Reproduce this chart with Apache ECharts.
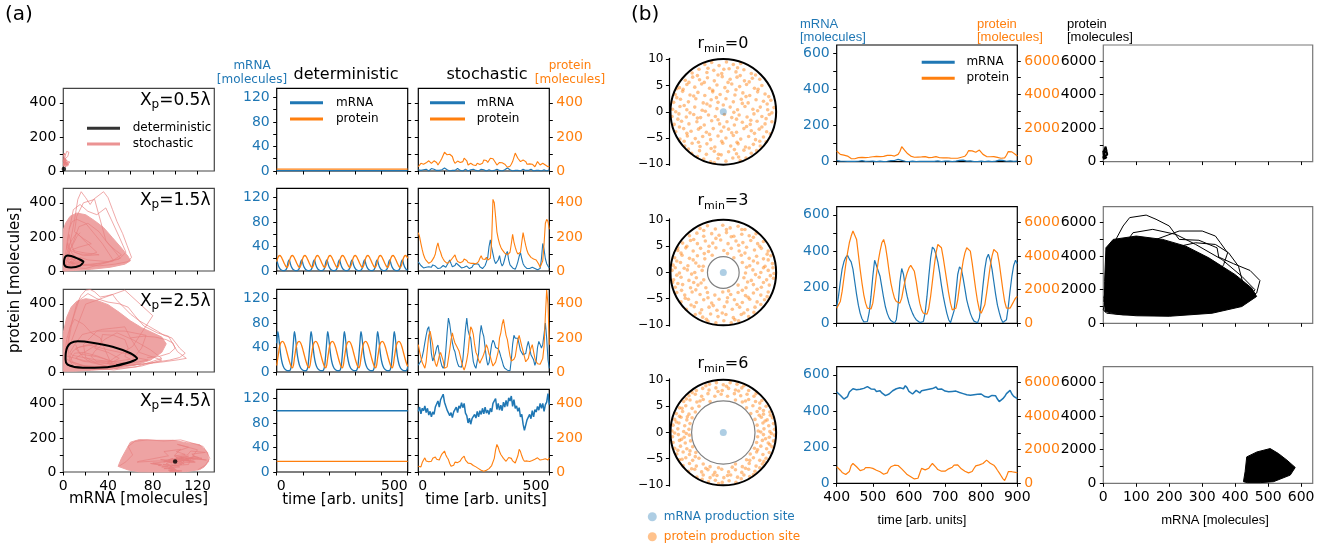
<!DOCTYPE html>
<html><head><meta charset="utf-8">
<script src="https://cdn.jsdelivr.net/npm/echarts@6.0.0/dist/echarts.min.js"></script>
<style>html,body{margin:0;padding:0;background:#fff}#c{width:1332px;height:543px}</style>
</head><body><div id="c"></div>
<script>
// ======================= DATA =======================
// ---- panel (a): tick values / labels
const A_MRNA_MAX = 135, A_PROT_MAX = 485;
const A_MRNA_TICKS = [0,20,40,60,80,100,120];
const A_MRNA_LABELS = [0,40,80,120];
const A_PROT_TICKS = [0,100,200,300,400];
const A_PROT_LABELS = [0,200,400];
const A_TIME_TICKS = [0,100,200,300,400,500];
const A_TIME_LABELS = [0,500];
const A_XP = ['0.5','1.5','2.5','4.5'];
// ---- panel (a): deterministic time series (mRNA on mRNA axis, protein on protein axis)
const DET1_T = [0,500], DET1_M = [0.5,0.5], DET1_P = [11,11];
const DET2_DT = 4;
const DET2_M = [18,12,7,4,2.2,1.2,0.7,0.6,1,2.5,7,15, 18,12,7,4,2.2,1.2,0.7,0.6,1,2.5,7,15, 18,12,7,4,2.2,1.2,0.7,0.6,1,2.5,7,15, 18,12,7,4,2.2,1.2,0.7,0.6,1,2.5,7,15, 18,12,7,4,2.2,1.2,0.7,0.6,1,2.5,7,15, 18,12,7,4,2.2,1.2,0.7,0.6,1,2.5,7,15, 18,12,7,4,2.2,1.2,0.7,0.6,1,2.5,7,15, 18,12,7,4,2.2,1.2,0.7,0.6,1,2.5,7,15, 18,12,7,4,2.2,1.2,0.7,0.6,1,2.5,7,15, 18,12,7,4,2.2,1.2,0.7,0.6,1,2.5,7,15, 18,12,7,4,2.2,1.2];
const DET2_P = [55,76,88,91,86,75,61,47,35,25,21,32, 55,76,88,91,86,75,61,47,35,25,21,32, 55,76,88,91,86,75,61,47,35,25,21,32, 55,76,88,91,86,75,61,47,35,25,21,32, 55,76,88,91,86,75,61,47,35,25,21,32, 55,76,88,91,86,75,61,47,35,25,21,32, 55,76,88,91,86,75,61,47,35,25,21,32, 55,76,88,91,86,75,61,47,35,25,21,32, 55,76,88,91,86,75,61,47,35,25,21,32, 55,76,88,91,86,75,61,47,35,25,21,32, 55,76,88,91,86,75];
const DET3_T = [0, 4,7,11,16,22,28,34,40,46,52,56,60,64, 67.5,70.5,74.5,79.5,85.5,91.5,97.5,103.5,109.5,115.5,119.5,123.5,127.5, 131,134,138,143,149,155,161,167,173,179,183,187,191, 194.5,197.5,201.5,206.5,212.5,218.5,224.5,230.5,236.5,242.5,246.5,250.5,254.5, 258,261,265,270,276,282,288,294,300,306,310,314,318, 321.5,324.5,328.5,333.5,339.5,345.5,351.5,357.5,363.5,369.5,373.5,377.5,381.5, 385,388,392,397,403,409,415,421,427,433,437,441,445, 448.5,451.5,455.5,460.5,466.5,472.5,478.5,484.5,490.5,496.5,500];
const DET3_M = [47, 66,60,44,26,13,6.5,3.5,2.2,2.0,3.5,10,28,50, 66,60,44,26,13,6.5,3.5,2.2,2.0,3.5,10,28,50, 66,60,44,26,13,6.5,3.5,2.2,2.0,3.5,10,28,50, 66,60,44,26,13,6.5,3.5,2.2,2.0,3.5,10,28,50, 66,60,44,26,13,6.5,3.5,2.2,2.0,3.5,10,28,50, 66,60,44,26,13,6.5,3.5,2.2,2.0,3.5,10,28,50, 66,60,44,26,13,6.5,3.5,2.2,2.0,3.5,10,28,50, 66,60,44,26,13,6.5,3.5,2.2,2.0,3.5, 9];
const DET3_P = [38, 80,110,148,172,180,170,145,110,75,45,30,25,40, 80,110,148,172,180,170,145,110,75,45,30,25,40, 80,110,148,172,180,170,145,110,75,45,30,25,40, 80,110,148,172,180,170,145,110,75,45,30,25,40, 80,110,148,172,180,170,145,110,75,45,30,25,40, 80,110,148,172,180,170,145,110,75,45,30,25,40, 80,110,148,172,180,170,145,110,75,45,30,25,40, 80,110,148,172,180,170,145,110,75,45, 32];
const DET4_T = [0,500], DET4_M = [100,100], DET4_P = [62,62];
// ---- panel (a): stochastic time series, t = 0..500 every 5
const A_ST_T0 = 0, A_ST_DT = 5;
const S1_M = [2,3,1,4,2,5,3,1,0,2, 4,6,3,2,1,0,1,3,2,4, 5,3,2,1,0,0,1,2,1,3, 4,2,1,0,0,2,3,1,0,1, 2,4,3,2,1,0,0,1,3,5, 2,1,0,1,2,1,0,0,1,2, 3,2,1,0,0,1,2,4,5,3, 2,1,0,0,1,2,1,0,0,2, 3,2,1,0,1,2,3,1,0,0, 1,2,1,0,0,1,2,1,0,1, 2];
const S1_P = [25,32,45,50,40,35,48,55,60,50, 45,52,60,65,50,35,45,60,75,85, 110,115,95,90,98,105,85,60,45,50, 58,60,50,40,55,75,85,60,35,40, 45,42,35,25,32,45,42,38,35,45, 65,75,62,50,60,75,85,72,60,48, 35,38,50,55,48,42,40,30,22,20, 28,40,55,80,105,90,75,65,55,58, 65,70,55,40,35,42,50,40,30,25, 40,55,48,35,38,45,42,35,30,25, 28];
const S2_M = [15,12,9,6,5,4,6,5,7,9, 6,10,12,8,5,4,3,5,7,9, 10,6,8,14,18,12,7,5,9,13, 15,9,6,5,4,6,7,8,6,4, 3,6,10,8,12,15,11,7,5,4, 5,9,15,22,40,51,38,28,18,12, 10,18,25,14,8,12,20,28,32,18, 10,7,5,4,3,8,15,24,30,20, 12,8,5,4,3,4,5,6,5,4, 3,2,2,4,20,45,35,20,12,8, 5];
const S2_P = [225,200,160,125,95,75,62,52,45,48, 55,60,80,100,140,165,130,110,85,70, 58,50,45,48,55,60,75,85,95,70, 55,50,48,45,55,70,80,62,50,48, 45,42,45,40,42,48,55,75,90,70, 60,68,80,65,55,75,180,420,400,320, 230,190,160,140,125,115,105,100,95,90, 110,160,215,170,140,115,100,95,110,170, 225,185,150,120,100,90,80,75,70,68, 65,55,40,22,15,60,160,280,303,290, 245];
const S3_M = [11,14,18,25,35,48,60,70,74,55, 30,18,20,30,40,44,30,18,10,6, 10,35,65,88,78,62,48,38,33,22, 14,9,6,8,20,45,70,88,68,60, 55,35,17,10,6,8,30,60,76,65, 58,40,22,11,15,30,45,52,48,40, 42,38,33,25,18,10,6,4,3,2, 2,20,45,60,55,58,55,45,35,33, 28,25,30,42,50,40,28,30,20,11, 18,40,50,45,39,45,62,80,55,20, 6];
const S3_P = [160,120,85,55,40,22,60,140,215,240, 240,160,85,50,32,60,95,115,110,65, 22,14,30,80,130,190,230,195,170,155, 145,125,95,61,30,12,35,70,115,200, 265,250,220,160,115,98,70,51,70,85, 105,130,160,140,105,90,60,35,45,58, 61,120,200,230,280,309,260,215,190,140, 95,65,61,75,91,140,190,215,220,150, 121,90,60,51,80,115,140,160,120,81, 62,48,42,45,51,80,150,330,480,398, 160];
const S4_M = [99,106,95,104,100,108,97,104,93,99, 90,98,94,106,104,116,106,118,115,127, 114,111,101,104,92,97,89,98,95,106, 97,108,104,113,105,112,96,92,80,88, 78,87,85,94,88,99,90,100,94,104, 95,106,96,101,94,104,98,112,114,120, 102,112,101,109,100,114,106,117,107,121, 116,124,107,118,104,108,99,105,90,94, 78,68,66,85,84,94,87,100,90,102, 98,107,101,112,104,112,99,110,114,128, 110];
const S4_P = [34,45,30,55,70,83,65,75,60,55, 63,80,70,88,75,83,70,90,105,115, 123,100,85,73,50,34,45,40,58,63, 55,48,65,78,85,93,70,60,52,44, 50,40,38,34,30,25,20,18,10,5, 4,6,10,14,20,30,38,44,80,130, 162,145,120,103,95,80,70,63,72,85, 93,80,65,58,53,60,95,133,120,95, 75,63,58,65,70,62,73,68,60,75, 68,83,78,70,76,73,64,78,85,70, 83];
// ---- panel (a): dense parts of the stochastic phase clouds and extra excursions [mRNA, protein]
const CLOUD2 = [[0,0],[0,240],[2,280],[6,320],[12,340],[20,330],[28,295],[36,255],[44,195],[52,135],[58,85],[60,60],[55,40],[42,22],[25,10],[10,3]];
const LOOP2A = [[3,60],[6,160],[10,300],[13,420],[16,465],[20,430],[24,390],[27,420],[31,440],[36,465],[40,430],[44,360],[48,290],[53,220],[57,150],[61,80],[58,55],[46,40],[32,30],[18,35],[8,45],[3,60]];
const LOOP2B = [[1,40],[4,200],[9,360],[15,390],[22,350],[30,330],[38,370],[43,300],[50,200],[56,110],[50,70],[38,50],[24,40],[10,35],[1,40]];
const LOOP2C = [[2,30],[6,120],[14,260],[22,280],[32,230],[40,160],[47,120],[52,95],[44,60],[30,40],[14,30],[2,30]];
const CLOUD3 = [[0,5],[0,230],[3,320],[7,380],[12,415],[20,430],[30,420],[40,395],[50,350],[60,300],[70,260],[80,230],[88,205],[92,165],[88,115],[78,70],[64,40],[45,20],[25,10],[10,5]];
const LOOP3A = [[4,150],[8,300],[12,400],[16,450],[20,480],[24,484],[28,470],[33,440],[38,445],[44,455],[48,420],[54,380],[60,340],[68,300],[76,270],[84,240],[90,215],[97,200],[100,175],[104,140],[109,110],[104,85],[95,70],[80,55],[60,40],[40,30],[20,35],[6,60],[4,150]];
const LOOP3B = [[2,80],[6,260],[14,420],[22,460],[30,430],[40,410],[50,400],[58,380],[64,330],[72,270],[84,230],[94,210],[102,120],[110,80],[103,72],[90,60],[70,45],[50,35],[30,30],[12,40],[2,80]];
const LOOP3C = [[60,200],[72,210],[82,205],[92,190],[98,170],[100,140],[95,110],[85,90],[75,85]];
const CLOUD4 = [[49,33],[52,80],[57,140],[60,175],[68,190],[83,186],[98,186],[110,172],[122,160],[129,115],[130,63],[126,30],[122,14],[110,2],[90,0],[68,1],[58,12]];
const LOOP4A = [[50,35],[56,60],[62,100],[58,150],[64,180],[75,188],[90,182],[105,188],[115,170],[125,150],[128,120],[131,80],[127,40],[120,12]];
// ---- panel (b): tick values / labels
const B_MRNA_MAX_TS = 645, B_MRNA_MAX_PH = 635, B_PROT_MAX = 6950;
const B_MRNA_TS_TICKS = [0,100,200,300,400,500,600];
const B_MRNA_TS_LABELS = [0,200,400,600];
const B_PROT_TICKS = [0,1000,2000,3000,4000,5000,6000];
const B_PROT_LABELS = [0,2000,4000,6000];
const B_TIME_TICKS = [400,500,600,700,800,900];
const B_MRNA_PH_TICKS = [0,100,200,300,400,500,600];
const CIRC_TICKS = [-10,-5,0,5,10];
const R_MAX = 10;
const R_MIN = [0,3,6];
// ---- panel (b): time series, t = 400..900 every 5
const B_T0 = 400, B_DT = 5;
const B1_M = [6,4,3,5,2,3,1,0,2,3, 1,0,2,4,5,3,1,0,2,1, 3,2,0,1,3,2,0,1,2,4, 5,3,6,9,12,10,7,4,2,1, 0,2,3,1,0,2,1,3,2,0, 1,3,2,0,1,2,4,2,0,1, 3,5,3,1,0,2,3,5,7,9, 8,6,3,2,4,2,0,1,0,2, 3,1,0,2,3,1,0,1,3,5, 8,10,7,4,2,3,4,2,1,2, 3];
const B1_P = [630,520,430,400,390,370,330,260,180,140, 170,220,240,210,250,270,240,280,260,300, 290,260,310,330,300,340,310,360,370,340, 380,370,330,360,430,600,890,780,630,500, 400,330,300,260,240,270,300,280,330,300, 260,240,270,250,280,300,260,230,200,220, 190,230,240,210,230,200,180,200,230,260, 280,320,450,650,730,640,530,560,650,690, 600,430,360,300,280,290,270,300,280,250, 230,200,180,220,380,600,630,580,560,420, 330];
const B2_M = [90,150,230,300,340,365,377,355,340,300, 230,160,100,55,25,8,3,10,60,150, 260,349,320,290,260,200,140,90,55,30, 15,6,2,20,100,230,303,270,200,150, 110,80,55,35,20,10,4,0,10,60, 150,260,360,422,410,380,340,280,210,150, 100,55,20,3,10,70,170,270,312,300, 250,190,130,90,55,30,12,4,3,30, 110,210,300,360,382,350,300,230,160,100, 60,25,5,2,20,90,180,260,320,349, 330];
const B2_P = [900,1000,1300,1900,2700,3500,4200,4800,5200,5500, 5500,5000,4100,3200,2400,1700,1200,900,800,850, 1200,2000,2900,3700,4300,4800,5000,4600,3900,3100, 2400,1900,1500,1300,1200,1200,1500,2100,2600,3000, 3300,3450,3400,3100,2500,1800,1200,800,600,500, 550,900,1600,2500,3400,4200,4700,4800,4500,3900, 3200,2500,1800,1200,800,700,900,1400,2200,3000, 3700,4200,4500,4600,4300,3600,2800,2000,1300,800, 600,700,1100,1800,2600,3400,4000,4400,4500,4200, 3600,2800,2000,1300,900,800,900,1100,1300,1500, 1600];
const B3_M = [505,498,487,476,466,474,480,505,516,523, 512,518,508,520,512,525,518,535,542,522, 514,520,508,517,512,500,492,485,481,494, 500,512,506,523,515,528,518,523,540,528, 508,500,494,505,514,506,500,512,505,516, 509,520,512,524,518,533,520,514,522,516, 510,518,506,514,508,518,510,514,502,508, 496,502,490,495,487,494,490,498,492,486, 494,487,480,488,476,481,486,478,484,466, 452,458,468,480,496,504,514,494,481,472, 468];
const B3_P = [986,900,780,650,590,520,490,700,1050,1180, 1080,986,880,760,690,820,940,986,940,900, 890,840,780,720,690,620,540,490,620,850, 986,1020,1080,1140,1060,960,860,790,640,520, 430,394,330,260,197,300,600,890,850,800, 790,900,1050,1180,1100,950,820,780,720,690, 720,800,860,890,960,1080,1180,1100,980,860, 790,720,660,620,590,700,880,1040,1080,1100, 1140,1180,1280,1380,1300,1200,1100,1080,950,780, 620,450,280,160,400,690,720,690,690,650, 630];
// ---- panel (b): dense parts of phase portraits and outer loops [mRNA, protein]
const PB2 = [[5,700],[4,2500],[8,4500],[30,5000],[100,5200],[180,5000],[250,4600],[320,3900],[400,2900],[450,2100],[465,1600],[420,1000],[330,600],[200,420],[100,450],[40,550]];
const LOOPB2A = [[5,1000],[15,3500],[30,4700],[60,5800],[80,6300],[130,6450],[160,6200],[200,5800],[230,5000],[290,4950],[345,4500],[350,3950],[395,3550],[445,3150],[475,2550],[465,1800],[435,1550],[380,1000],[300,600],[200,500],[100,550],[30,700],[5,1000]];
const LOOPB2B = [[10,900],[40,4000],[90,5400],[150,5600],[220,5300],[280,4700],[360,3800],[420,2800],[460,2000],[430,1200],[340,700],[220,550],[100,600],[10,900]];
const PB3 = [[425,95],[430,690],[435,1575],[466,1870],[506,2070],[531,1775],[557,1380],[582,945],[567,490],[516,95],[476,40],[437,40]];
// ---- panel (b): production sites [x, y]
const MRNA_SITE = [[0,0]];
const SITES_R0 = [[-3.5,9.0],[-2.2,9.4],[-0.8,8.8],[0.6,9.5],[1.9,9.0],[3.3,9.2],
[-5.9,7.4],[-4.6,8.1],[-3.1,7.5],[-1.8,7.9],[-0.3,7.3],[1.1,8.2],[2.4,7.6],[3.9,8.0],[5.3,7.3],
[-7.2,6.0],[-5.8,6.6],[-4.5,6.1],[-3.0,6.5],[-1.7,5.9],[-0.2,6.7],[1.3,6.2],[2.6,6.6],[4.0,5.9],[5.5,6.4],[6.9,6.2],
[-8.3,4.6],[-6.9,5.2],[-5.4,4.7],[-4.1,5.3],[-2.6,4.5],[-1.2,5.1],[0.3,4.6],[1.6,5.3],[3.1,4.8],[4.4,5.2],[5.9,4.5],[7.3,5.0],
[-9.1,3.3],[-7.7,3.9],[-6.3,3.2],[-4.8,3.7],[-3.5,3.1],[-2.0,3.8],[-0.6,3.3],[0.8,3.9],[2.2,3.2],[3.7,3.6],[5.0,3.1],[6.5,3.8],[7.9,3.4],
[-9.4,1.8],[-8.1,2.4],[-6.6,1.9],[-5.2,2.5],[-3.8,1.7],[-2.3,2.3],[-1.0,1.8],[0.5,2.5],[1.9,1.9],[3.4,2.4],[4.7,1.7],[6.2,2.3],[7.6,2.0],[9.0,2.2],
[-9.6,0.5],[-8.2,1.0],[-6.9,0.4],[-5.4,0.9],[-4.0,0.3],[-2.5,1.1],[-1.2,0.6],[1.3,0.9],[2.7,0.4],[4.1,1.0],[5.6,0.5],[7.0,0.9],[8.4,0.4],[9.6,0.8],
[-9.7,-0.9],[-8.4,-0.4],[-7.0,-1.0],[-5.6,-0.5],[-4.3,-1.1],[-2.8,-0.6],[-1.5,-0.9],[0.2,-0.5],[1.6,-1.1],[3.0,-0.6],[4.5,-1.0],[5.8,-0.4],[7.3,-0.9],[8.7,-0.5],
[-9.3,-2.4],[-7.9,-1.8],[-6.5,-2.3],[-5.0,-1.9],[-3.6,-2.5],[-2.2,-1.7],[-0.7,-2.3],[0.7,-1.9],[2.1,-2.5],[3.6,-2.0],[5.1,-2.4],[6.4,-1.8],[7.9,-2.3],[9.2,-1.9],
[-9.0,-3.8],[-7.5,-3.2],[-6.1,-3.7],[-4.7,-3.3],[-3.2,-3.9],[-1.9,-3.2],[-0.4,-3.7],[1.0,-3.3],[2.5,-3.9],[3.9,-3.2],[5.3,-3.6],[6.8,-3.3],[8.2,-3.8],
[-8.2,-5.2],[-6.8,-4.6],[-5.3,-5.1],[-3.9,-4.7],[-2.4,-5.3],[-1.0,-4.6],[0.5,-5.0],[1.9,-4.5],[3.3,-5.2],[4.8,-4.7],[6.1,-5.3],[7.6,-4.8],
[-7.3,-6.5],[-5.9,-6.0],[-4.4,-6.6],[-3.1,-6.1],[-1.6,-6.7],[-0.1,-6.0],[1.4,-6.5],[2.8,-6.1],[4.2,-6.7],[5.7,-6.2],[7.0,-6.5],
[-6.0,-7.9],[-4.5,-7.4],[-3.2,-8.1],[-1.7,-7.5],[-0.4,-8.2],[1.0,-7.6],[2.5,-8.0],[3.9,-7.3],[5.3,-7.9],
[-3.7,-9.0],[-2.4,-9.5],[-1.0,-8.9],[0.5,-9.4],[1.8,-8.8],[3.2,-9.3],
[-2.9,8.3],[0.1,8.1],[2.7,8.4],[-4.9,6.9],[-1.0,7.0],[3.2,6.9],[6.1,7.0],[-6.5,5.6],[-3.6,5.6],[0.9,5.6],[4.9,5.7],[-7.6,4.3],[-2.0,4.1],[2.4,4.2],[6.6,4.3],
[-8.8,2.7],[-5.6,3.0],[-1.3,2.7],[4.3,2.9],[8.6,2.9],[-7.4,1.2],[-3.1,1.5],[0.0,1.3],[3.6,1.6],[8.3,1.5],[-9.0,0.0],[-6.3,-0.2],[-3.4,0.1],[2.0,-0.1],[6.5,0.2],[9.2,-0.2],
[-8.6,-1.4],[-4.9,-1.2],[-1.0,-1.5],[2.5,-1.4],[5.2,-1.6],[8.1,-1.3],[-8.3,-2.9],[-4.3,-3.0],[0.1,-2.9],[4.4,-2.8],[7.3,-2.9],[-6.9,-4.1],[-2.6,-4.3],[1.6,-4.0],[5.9,-4.1],[8.9,-4.2],
[-7.4,-5.6],[-4.7,-5.8],[-0.3,-5.6],[2.6,-5.8],[6.9,-5.6],[-6.6,-7.1],[-2.3,-7.0],[2.1,-7.2],[4.9,-6.9],[-4.9,-8.5],[-0.9,-8.1],[2.9,-8.6],[-1.7,-9.7],[4.3,-8.8],[6.3,-7.4],[8.1,-5.7],[-8.8,4.4]];
const SITES_R3 = [[-4.4,8.4],[-3.0,8.9],[-1.5,8.3],[-0.1,9.0],[1.3,8.5],[2.8,8.8],[4.1,8.2],
[-6.4,7.0],[-5.0,7.5],[-3.7,6.9],[-2.2,7.4],[-0.8,7.1],[0.6,7.6],[2.0,6.9],[3.5,7.3],[4.9,7.0],[6.2,7.4],
[-7.7,5.6],[-6.2,6.1],[-4.9,5.5],[-3.4,6.0],[-2.0,5.6],[-0.5,6.2],[0.9,5.5],[2.4,6.0],[3.7,5.7],[5.2,6.1],[6.5,5.5],[7.6,5.9],
[-8.6,4.2],[-7.1,4.7],[-5.7,4.1],[-4.3,4.6],[-2.8,4.0],[-1.4,4.7],[0.1,4.2],[1.5,4.6],[3.0,4.1],[4.4,4.8],[5.9,4.3],[7.2,4.6],[8.5,4.1],
[-9.2,2.8],[-7.8,3.3],[-6.4,2.7],[-4.9,3.2],[-3.5,2.6],[-2.1,3.3],[2.0,2.8],[3.4,3.3],[4.9,2.7],[6.3,3.1],[7.6,2.6],[9.0,3.2],
[-9.5,1.4],[-8.1,1.9],[-6.7,1.3],[-5.2,1.8],[-3.8,1.2],[3.6,1.9],[5.0,1.3],[6.5,1.8],[7.9,1.2],[9.3,1.7],
[-9.7,0.4],[-8.3,-0.1],[-6.8,0.5],[-5.4,0.0],[-4.0,0.4],[4.2,-0.1],[5.6,0.5],[7.1,0.0],[8.5,0.4],[9.6,-0.2],
[-9.4,-1.4],[-8.0,-0.9],[-6.5,-1.5],[-5.1,-1.0],[-3.7,-1.4],[3.9,-1.0],[5.3,-1.5],[6.8,-0.9],[8.2,-1.4],[9.5,-1.1],
[-9.1,-2.8],[-7.7,-2.3],[-6.2,-2.9],[-4.8,-2.4],[-3.3,-2.9],[2.8,-2.4],[4.3,-2.9],[5.7,-2.3],[7.2,-2.8],[8.7,-2.4],
[-8.8,-3.8],[-7.3,-4.3],[-5.9,-3.7],[-4.4,-4.2],[-3.0,-3.8],[-1.6,-4.3],[-0.1,-3.7],[1.4,-4.2],[2.8,-3.8],[4.2,-4.4],[5.7,-3.9],[7.1,-4.3],[8.5,-3.7],
[-8.0,-5.6],[-6.6,-5.1],[-5.1,-5.7],[-3.7,-5.2],[-2.2,-5.8],[-0.8,-5.1],[0.7,-5.6],[2.1,-5.2],[3.6,-5.7],[5.0,-5.1],[6.4,-5.6],[7.8,-5.2],
[-7.0,-7.0],[-5.5,-6.5],[-4.1,-7.1],[-2.7,-6.6],[-1.2,-7.2],[0.2,-6.5],[1.7,-7.0],[3.1,-6.6],[4.6,-7.1],[6.0,-6.6],
[-5.3,-8.0],[-3.9,-8.5],[-2.4,-7.9],[-1.0,-8.4],[0.5,-8.0],[1.9,-8.6],[3.4,-8.0],[4.8,-8.4],
[-2.9,-9.3],[-1.4,-9.6],[0.1,-9.2],[1.5,-9.6],[2.9,-9.2],
[-3.7,8.0],[0.6,8.2],[3.5,8.2],[-5.6,6.3],[-1.4,6.5],[1.5,6.8],[5.7,6.7],[-6.9,5.0],[-2.7,5.0],[2.9,5.2],[6.9,5.0],[-8.0,3.7],[-3.6,3.6],[0.8,3.6],[4.1,3.7],[8.3,3.5],
[-8.8,2.2],[-5.7,2.4],[5.7,2.2],[8.5,2.4],[-9.1,0.9],[-7.4,0.8],[-4.6,1.2],[4.4,1.0],[7.6,0.9],[-8.8,-0.5],[-6.0,-0.3],[6.1,-0.4],[8.9,-0.6],
[-8.6,-2.1],[-5.6,-1.9],[-4.2,-2.0],[4.6,-1.8],[7.6,-1.9],[-7.9,-3.4],[-5.2,-3.3],[1.0,-3.5],[3.6,-3.4],[6.4,-3.2],[-7.2,-4.9],[-2.9,-4.8],[0.8,-4.8],[4.7,-4.7],[8.3,-4.6],
[-6.1,-6.2],[-1.9,-6.3],[2.6,-6.1],[7.1,-6.1],[-4.4,-7.7],[-0.2,-7.7],[3.9,-7.7],[5.8,-7.6],[-3.2,-8.9],[2.2,-9.0],[-8.6,4.7],[9.4,0.9],[-9.6,-1.9]];
const SITES_R6 = [[-2.6,9.2],[-1.3,9.5],[0.0,9.1],[1.3,9.5],[2.6,9.2],
[-5.1,8.0],[-3.9,8.4],[-2.7,8.1],[-1.4,8.5],[-0.2,8.0],[1.0,8.4],[2.3,8.1],[3.5,8.5],[4.8,8.0],
[-6.5,7.0],[-5.3,7.3],[-4.1,6.9],[-2.9,7.4],[-1.6,6.9],[-0.4,7.3],[0.8,6.9],[2.1,7.4],[3.3,7.0],[4.5,7.3],[5.8,6.9],
[-7.5,5.9],[-6.3,6.2],[-5.0,5.8],[-3.8,6.3],[-2.5,5.9],[2.3,6.2],[3.6,5.8],[4.8,6.3],[6.1,5.9],[7.3,6.1],
[-8.3,4.7],[-7.1,5.1],[-5.9,4.6],[-4.6,5.0],[4.4,4.7],[5.6,5.1],[6.9,4.6],[8.1,5.0],
[-8.9,3.6],[-7.7,4.0],[-6.5,3.5],[-5.3,3.9],[5.2,3.6],[6.4,4.0],[7.6,3.5],[8.8,3.9],
[-9.2,2.5],[-8.0,2.9],[-6.9,2.4],[-5.9,2.8],[6.0,2.5],[7.2,2.9],[8.3,2.4],[9.3,2.8],
[-9.5,1.4],[-8.4,1.8],[-7.3,1.3],[-6.3,1.7],[6.4,1.4],[7.5,1.8],[8.6,1.3],[9.5,1.7],
[-9.7,0.3],[-8.6,0.7],[-7.5,0.2],[-6.5,0.6],[6.6,0.3],[7.7,0.7],[8.8,0.2],[9.7,0.6],
[-9.6,-0.8],[-8.5,-0.4],[-7.4,-0.9],[-6.4,-0.5],[6.5,-0.8],[7.6,-0.4],[8.7,-0.9],[9.7,-0.5],
[-9.5,-1.9],[-8.3,-1.5],[-7.2,-2.0],[-6.2,-1.6],[6.3,-1.9],[7.4,-1.5],[8.5,-2.0],[9.5,-1.6],
[-9.2,-3.0],[-8.1,-2.6],[-6.9,-3.1],[-5.8,-2.7],[5.9,-3.0],[7.1,-2.6],[8.2,-3.1],[9.2,-2.7],
[-8.8,-4.1],[-7.6,-3.7],[-6.4,-4.2],[-5.2,-3.8],[5.1,-4.1],[6.3,-3.7],[7.5,-4.2],[8.7,-3.8],
[-8.3,-5.2],[-7.1,-4.8],[-5.8,-5.3],[-4.6,-4.9],[4.4,-5.2],[5.7,-4.8],[6.9,-5.3],[8.1,-4.9],
[-7.6,-6.3],[-6.4,-5.9],[-5.1,-6.4],[-3.8,-6.0],[-2.5,-6.5],[2.3,-6.0],[3.6,-6.5],[4.9,-5.9],[6.2,-6.4],[7.4,-6.0],
[-6.6,-7.4],[-5.4,-7.0],[-4.1,-7.5],[-2.9,-7.1],[-1.6,-7.6],[-0.3,-7.0],[1.0,-7.5],[2.3,-7.1],[3.5,-7.6],[4.8,-7.0],[6.0,-7.4],
[-5.0,-8.5],[-3.8,-8.1],[-2.5,-8.6],[-1.2,-8.2],[0.1,-8.6],[1.4,-8.1],[2.7,-8.5],[3.9,-8.1],[5.0,-8.4],
[-2.8,-9.4],[-1.5,-9.1],[-0.2,-9.5],[1.1,-9.2],[2.4,-9.5],
[-3.3,8.9],[0.6,8.8],[3.9,8.9],[-5.9,7.6],[-1.0,7.8],[2.9,7.9],[6.2,7.4],[-7.0,6.4],[-4.4,6.0],[4.2,6.0],[6.9,5.6],[-7.8,4.6],[7.6,4.2],[-8.3,3.1],[-6.8,3.0],
[6.8,3.3],[8.9,3.3],[-8.9,2.0],[7.9,2.2],[-9.2,-0.1],[-7.0,-0.2],[7.1,0.1],[9.1,-0.2],[-7.9,-1.3],[8.0,-1.2],[-8.6,-3.4],[-6.3,-3.5],[6.5,-3.3],[8.8,-2.3],
[-7.8,-5.1],[-5.3,-4.6],[5.0,-5.3],[7.7,-5.5],[-6.0,-6.9],[-3.3,-6.8],[-0.9,-6.7],[1.7,-6.6],[4.2,-6.8],[6.9,-6.7],[-4.0,-8.9],[-1.9,-8.1],[0.8,-8.2],[3.4,-8.8],[-0.9,-9.7],[5.7,-8.0]];

// ======================= LAYOUT / STYLE =======================
const FONT = '"DejaVu Sans", sans-serif';
const FONT_B = '"Liberation Sans", Arial, sans-serif';
const BLUE = '#1f77b4', ORANGE = '#ff7f0e';
const PINK = 'rgba(232,128,128,0.85)', PINK_FILL = '#eea3a3';
const ROWS_A = [88.3, 188.3, 289.3, 389.3], H_A = 82.7;
const PH_A = [63.3, 151], DT_A = [276.7, 131], ST_A = [418.3, 131];
const ROWS_CI = [58.25, 218.95, 378.95], CI = [669.4, 107.8], H_CI = 107.1;
const ROWS_B = [45, 206.7, 366.7], H_B = 116.6;
const TS_B = [836.7, 180.6], PH_B = [1103.3, 209.4];

const grid = [], xAxis = [], yAxis = [], series = [], legend = [], graphic = [];

function addGrid(left, top, width, height, border) {
  grid.push({left, top, width, height, show: !!border, borderColor: border || 'transparent', borderWidth: 1.2, backgroundColor: 'transparent'});
  return grid.length - 1;
}
const plainFmt = v => String(v);
function addAxis(list, gi, c) {
  const hasT = !!(c.ticks && c.ticks.length), hasL = !!(c.labels && c.labels.length);
  const lab = {show: hasL, customValues: c.labels || [], fontFamily: FONT, fontSize: c.fontSize || 14,
    color: c.color || '#000', margin: c.margin || 7, formatter: c.formatter || plainFmt};
  if (c.alignMin) { lab.alignMinLabel = c.alignMin; lab.alignMaxLabel = c.alignMax; }
  list.push({type: 'value', gridIndex: gi, min: c.min, max: c.max, position: c.position, show: c.show !== false,
    axisLine: {show: !!c.line, onZero: false, lineStyle: {color: '#000', width: 1.2}},
    splitLine: {show: false},
    axisTick: {show: hasT, length: 3.5, lineStyle: {color: '#000', width: 1}, customValues: c.ticks || []},
    axisLabel: lab});
  return list.length - 1;
}
const zipT = (arr, t0, dt) => arr.map((v, i) => [t0 + i * dt, v]);
const zipXY = (xs, ys) => xs.map((v, i) => [v, ys[i]]);
function line(name, xi, yi, data, color, width, extra) {
  return Object.assign({type: 'line', name, xAxisIndex: xi, yAxisIndex: yi, data, showSymbol: false, symbol: 'none',
    color, itemStyle: {color}, lineStyle: {color, width}, animation: false, silent: true, z: 3}, extra || {});
}
function polySeries(xi, yi, pts, fill, z) {
  return {type: 'custom', name: 'cloud', xAxisIndex: xi, yAxisIndex: yi, data: [[pts[0][0], pts[0][1]]], z: z || 1, silent: true, animation: false,
    renderItem: (params, api) => ({type: 'polygon', shape: {points: pts.map(p => api.coord(p))}, style: {fill, stroke: fill, lineWidth: 1}})};
}
function circleSeries(xi, yi, r, stroke, lw) {
  return {type: 'custom', name: 'boundary', xAxisIndex: xi, yAxisIndex: yi, data: [[r, 0]], silent: true, animation: false, clip: false, z: 4,
    renderItem: (params, api) => { const c = api.coord([0, 0]); const e = api.coord([api.value(0), 0]);
      return {type: 'circle', shape: {cx: c[0], cy: c[1], r: e[0] - c[0]}, style: {fill: 'none', stroke, lineWidth: lw}}; }};
}

// ======================= PANEL (a) =======================
const A_STOCH_M = [S1_M, S2_M, S3_M, S4_M], A_STOCH_P = [S1_P, S2_P, S3_P, S4_P];
const A_CLOUDS = [null, CLOUD2, CLOUD3, CLOUD4];
const A_LOOPS = [[], [LOOP2A, LOOP2B, LOOP2C], [LOOP3A, LOOP3B, LOOP3C], [LOOP4A]];
const DET_T = [DET1_T, null, DET3_T, DET4_T], DET_M = [DET1_M, DET2_M, DET3_M, DET4_M], DET_P = [DET1_P, DET2_P, DET3_P, DET4_P];
function detPairs(r, arr) { return r === 1 ? zipT(arr, 0, DET2_DT) : zipXY(DET_T[r], arr); }

ROWS_A.forEach((top, r) => {
  const last = r === 3;
  // phase portrait
  let g = addGrid(PH_A[0], top, PH_A[1], H_A, '#444');
  let xi = addAxis(xAxis, g, {min: 0, max: A_MRNA_MAX, position: 'bottom', ticks: A_MRNA_TICKS, labels: last ? A_MRNA_LABELS : []});
  let yi = addAxis(yAxis, g, {min: 0, max: A_PROT_MAX, position: 'left', ticks: A_PROT_TICKS, labels: A_PROT_LABELS});
  if (A_CLOUDS[r]) series.push(polySeries(xi, yi, A_CLOUDS[r], PINK_FILL, 1));
  A_LOOPS[r].forEach(lp => series.push(line('stochastic', xi, yi, lp, PINK, 0.8, {z: 2})));
  series.push(line('stochastic', xi, yi, zipXY(A_STOCH_M[r], A_STOCH_P[r]), PINK, 0.8, {z: 2}));
  if (r === 1 || r === 2) {
    series.push(line('deterministic', xi, yi, zipXY(DET_M[r], DET_P[r]), '#000', 2, {z: 6, smooth: 0.3}));
  } else {
    series.push({type: 'scatter', name: 'deterministic', xAxisIndex: xi, yAxisIndex: yi, data: [[DET_M[r][0], DET_P[r][0]]],
      symbolSize: 4.5, itemStyle: {color: '#000'}, silent: true, animation: false, z: 6});
  }
  // deterministic time series
  g = addGrid(DT_A[0], top, DT_A[1], H_A, '#000');
  xi = addAxis(xAxis, g, {min: 0, max: 500, position: 'bottom', ticks: A_TIME_TICKS, labels: last ? A_TIME_LABELS : [], alignMin: 'left', alignMax: 'right'});
  yi = addAxis(yAxis, g, {min: 0, max: A_MRNA_MAX, position: 'left', ticks: A_MRNA_TICKS, labels: A_MRNA_LABELS, color: BLUE});
  let yp = addAxis(yAxis, g, {min: 0, max: A_PROT_MAX, position: 'right', ticks: A_PROT_TICKS, labels: []});
  series.push(line('mRNA', xi, yi, detPairs(r, DET_M[r]), BLUE, 1.3, {smooth: r === 1 || r === 2 ? 0.3 : false}));
  series.push(line('protein', xi, yp, detPairs(r, DET_P[r]), ORANGE, 1.3, {smooth: r === 1 || r === 2 ? 0.3 : false}));
  // stochastic time series
  g = addGrid(ST_A[0], top, ST_A[1], H_A, '#000');
  xi = addAxis(xAxis, g, {min: 0, max: 500, position: 'bottom', ticks: A_TIME_TICKS, labels: last ? A_TIME_LABELS : [], alignMin: 'left', alignMax: 'right'});
  yi = addAxis(yAxis, g, {min: 0, max: A_MRNA_MAX, position: 'left', show: false});
  yp = addAxis(yAxis, g, {min: 0, max: A_PROT_MAX, position: 'right', ticks: A_PROT_TICKS, labels: A_PROT_LABELS, color: ORANGE});
  addAxis(yAxis, g, {min: 0, max: A_PROT_MAX, position: 'left', ticks: A_PROT_TICKS, labels: []});
  series.push(line('mRNA', xi, yi, zipT(A_STOCH_M[r], A_ST_T0, A_ST_DT), BLUE, last ? 1.5 : 1.1));
  series.push(line('protein', xi, yp, zipT(A_STOCH_P[r], A_ST_T0, A_ST_DT), ORANGE, 1.1));
});

// ======================= PANEL (b) =======================
const B_M = [B1_M, B2_M, B3_M], B_P = [B1_P, B2_P, B3_P];
const B_CLOUDS = [null, PB2, PB3];
const B_LOOPS = [[], [LOOPB2A, LOOPB2B], []];
const SITES = [SITES_R0, SITES_R3, SITES_R6];
const minusFmt = v => (v < 0 ? '\u2212' + (-v) : String(v));

ROWS_CI.forEach((top, r) => {
  const g = addGrid(CI[0], top, CI[1], H_CI, null);
  const xi = addAxis(xAxis, g, {min: -10.2, max: 10.2, position: 'bottom', show: false});
  const yi = addAxis(yAxis, g, {min: -10.2, max: 10.2, position: 'left', line: true, ticks: CIRC_TICKS, labels: CIRC_TICKS, fontSize: 12, margin: 6, formatter: minusFmt});
  series.push({type: 'scatter', name: 'protein production site', xAxisIndex: xi, yAxisIndex: yi, data: SITES[r], symbolSize: 3.6,
    itemStyle: {color: 'rgba(255,127,14,0.6)'}, silent: true, animation: false, z: 2});
  series.push(circleSeries(xi, yi, R_MAX, '#000', 2));
  if (R_MIN[r] > 0) series.push(circleSeries(xi, yi, R_MIN[r], '#808080', 1.2));
  series.push({type: 'scatter', name: 'mRNA production site', xAxisIndex: xi, yAxisIndex: yi, data: MRNA_SITE, symbolSize: 7,
    itemStyle: {color: 'rgba(31,119,180,0.45)'}, silent: true, animation: false, z: 5});
});

ROWS_B.forEach((top, r) => {
  const last = r === 2;
  let g = addGrid(TS_B[0], top, TS_B[1], H_B, '#000');
  let xi = addAxis(xAxis, g, {min: 400, max: 900, position: 'bottom', ticks: B_TIME_TICKS, labels: last ? B_TIME_TICKS : []});
  let yi = addAxis(yAxis, g, {min: 0, max: B_MRNA_MAX_TS, position: 'left', ticks: B_MRNA_TS_TICKS, labels: B_MRNA_TS_LABELS, color: BLUE});
  let yp = addAxis(yAxis, g, {min: 0, max: B_PROT_MAX, position: 'right', ticks: B_PROT_TICKS, labels: B_PROT_LABELS, color: ORANGE});
  series.push(line('mRNA', xi, yi, zipT(B_M[r], B_T0, B_DT), BLUE, last ? 1.5 : 1.2));
  series.push(line('protein', xi, yp, zipT(B_P[r], B_T0, B_DT), ORANGE, 1.2));

  g = addGrid(PH_B[0], top, PH_B[1], H_B, '#777');
  xi = addAxis(xAxis, g, {min: 0, max: B_MRNA_MAX_PH, position: 'bottom', ticks: B_MRNA_PH_TICKS, labels: last ? B_MRNA_PH_TICKS : []});
  yi = addAxis(yAxis, g, {min: 0, max: B_PROT_MAX, position: 'left', ticks: B_PROT_TICKS, labels: B_PROT_LABELS});
  if (B_CLOUDS[r]) series.push(polySeries(xi, yi, B_CLOUDS[r], '#000', 1));
  B_LOOPS[r].forEach(lp => series.push(line('trajectory', xi, yi, lp, '#000', 1, {z: 2})));
  series.push(line('trajectory', xi, yi, zipXY(B_M[r], B_P[r]), '#000', r === 0 ? 2 : 1, {z: 2}));
});

// ======================= LEGENDS =======================
const legBase = {orient: 'vertical', icon: 'rect', itemWidth: 33, itemHeight: 3, padding: 0, selectedMode: false};
legend.push(Object.assign({}, legBase, {left: 87, top: 122.3, itemGap: 3.7,
  textStyle: {fontFamily: FONT, fontSize: 12, color: '#000', padding: [0, 0, 0, 7.7]}, data: ['deterministic', 'stochastic']}));
legend.push(Object.assign({}, legBase, {left: 290, top: 96.7, itemGap: 4.3,
  textStyle: {fontFamily: FONT, fontSize: 12, color: '#000', padding: [0, 0, 0, 8]}, data: ['mRNA', 'protein']}));
legend.push(Object.assign({}, legBase, {left: 430, top: 96.7, itemWidth: 35, itemGap: 4.3,
  textStyle: {fontFamily: FONT, fontSize: 12, color: '#000', padding: [0, 0, 0, 6.7]}, data: ['mRNA', 'protein']}));
legend.push(Object.assign({}, legBase, {left: 921.7, top: 56.3, itemGap: 4,
  textStyle: {fontFamily: FONT, fontSize: 12, color: '#000', padding: [0, 0, 0, 6.7]}, data: ['mRNA', 'protein']}));
legend.push({orient: 'vertical', icon: 'circle', itemWidth: 9, itemHeight: 9, padding: 0, selectedMode: false, left: 647.8, top: 510.7, itemGap: 8,
  textStyle: {fontFamily: FONT, fontSize: 12, padding: [0, 0, 0, 2]},
  data: [{name: 'mRNA production site', textStyle: {color: BLUE}}, {name: 'protein production site', textStyle: {color: ORANGE}}]});

// ======================= TEXT =======================
function txt(x, y, text, font, fill, align, valign, extra) {
  return Object.assign({type: 'text', x, y, silent: true, z: 50,
    style: {text, font, fill, align, verticalAlign: valign, textAlign: align, textVerticalAlign: valign}}, extra || {});
}
function txt2(x, y, text, font, fill, align, lh) {
  return {type: 'text', x, y, silent: true, z: 50,
    style: {text, font, fill, align, verticalAlign: 'middle', textAlign: align, textVerticalAlign: 'middle', lineHeight: lh}};
}
graphic.push(txt(5, 5, '(a)', '20px ' + FONT, '#000', 'left', 'top'));
graphic.push(txt(631, 5, '(b)', '20px ' + FONT, '#000', 'left', 'top'));
ROWS_A.forEach((top, r) => {
  graphic.push({type: 'text', x: 210.5, y: top + 1, silent: true, z: 50, style: {
    text: '{m|X}{s|p}{m|=' + A_XP[r] + '\u03bb}', align: 'right', verticalAlign: 'top', textAlign: 'right', textVerticalAlign: 'top',
    rich: {m: {fontFamily: FONT, fontSize: 17, lineHeight: 22, fill: '#000'}, s: {fontFamily: FONT, fontSize: 12, lineHeight: 12, verticalAlign: 'bottom', fill: '#000'}}}});
});
graphic.push(txt(346, 75, 'deterministic', '16px ' + FONT, '#000', 'center', 'middle'));
graphic.push(txt(487, 75, 'stochastic', '16px ' + FONT, '#000', 'center', 'middle'));
graphic.push(txt2(252, 73, 'mRNA\n[molecules]', '12px ' + FONT, BLUE, 'center', 14));
graphic.push(txt2(570, 73, 'protein\n[molecules]', '12px ' + FONT, ORANGE, 'center', 14));
graphic.push(txt(15, 280, 'protein [molecules]', '15px ' + FONT, '#000', 'center', 'middle', {rotation: Math.PI / 2}));
graphic.push(txt(138.5, 499, 'mRNA [molecules]', '15px ' + FONT, '#000', 'center', 'middle'));
graphic.push(txt(343, 500, 'time [arb. units]', '15px ' + FONT, '#000', 'center', 'middle'));
graphic.push(txt(486, 500, 'time [arb. units]', '15px ' + FONT, '#000', 'center', 'middle'));
const CI_TITLE_Y = [44, 201, 364];
R_MIN.forEach((rm, r) => {
  graphic.push({type: 'text', x: 723, y: CI_TITLE_Y[r], silent: true, z: 50, style: {
    text: '{m|r}{s|min}{m|=' + rm + '}', align: 'center', verticalAlign: 'middle', textAlign: 'center', textVerticalAlign: 'middle',
    rich: {m: {fontFamily: FONT, fontSize: 16, lineHeight: 21, fill: '#000'}, s: {fontFamily: FONT, fontSize: 11, lineHeight: 11, verticalAlign: 'bottom', fill: '#000'}}}});
});
graphic.push(txt2(800, 30.5, 'mRNA\n[molecules]', '13px ' + FONT_B, BLUE, 'left', 13));
graphic.push(txt2(977, 30.5, 'protein\n[molecules]', '13px ' + FONT_B, ORANGE, 'left', 13));
graphic.push(txt2(1067, 30.5, 'protein\n[molecules]', '13px ' + FONT_B, '#000', 'left', 13));
graphic.push(txt(922, 520, 'time [arb. units]', '13px ' + FONT_B, '#000', 'center', 'middle'));
graphic.push(txt(1215, 520, 'mRNA [molecules]', '13px ' + FONT_B, '#000', 'center', 'middle'));

const chart = echarts.init(document.getElementById('c'), null, {renderer: 'canvas'});
chart.setOption({animation: false, backgroundColor: '#fff', grid, xAxis, yAxis, series, legend, graphic});
</script></body></html>
